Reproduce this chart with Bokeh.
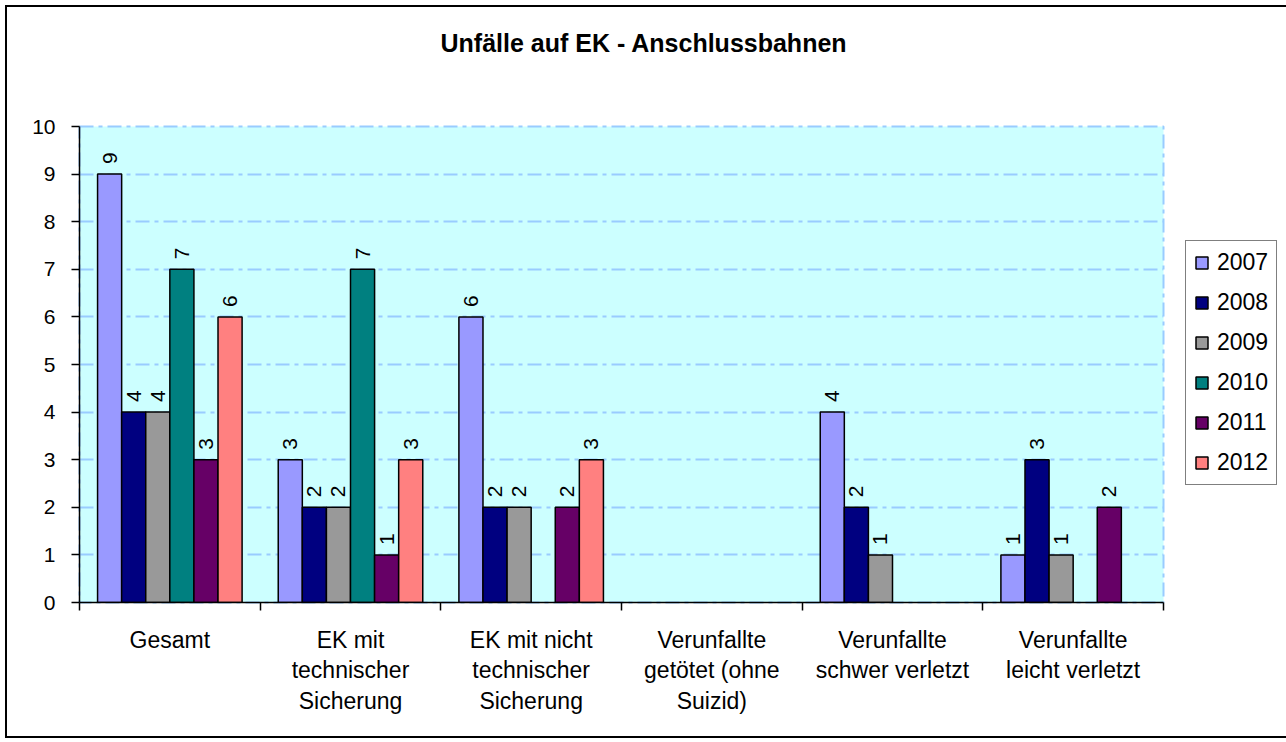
import math
from bokeh.plotting import figure
from bokeh.models import ColumnDataSource, FixedTicker, Legend, LegendItem, Range1d, Title
from bokeh.core.properties import value
from bokeh.embed import file_html
from bokeh.resources import INLINE

title_text = "Unfälle auf EK - Anschlussbahnen"
categories = [
    "Gesamt",
    "EK mit\ntechnischer\nSicherung",
    "EK mit nicht\ntechnischer\nSicherung",
    "Verunfallte\ngetötet (ohne\nSuizid)",
    "Verunfallte\nschwer verletzt",
    "Verunfallte\nleicht verletzt",
]
years = ["2007", "2008", "2009", "2010", "2011", "2012"]
v2007 = [9, 3, 6, None, 4, 1]
v2008 = [4, 2, 2, None, 2, 3]
v2009 = [4, 2, 2, None, 1, 1]
v2010 = [7, 7, None, None, None, None]
v2011 = [3, 1, 2, None, None, 2]
v2012 = [6, 3, 3, None, None, None]
series = [v2007, v2008, v2009, v2010, v2011, v2012]
colors = ["#9999FF", "#000080", "#999999", "#008080", "#660066", "#FF8080"]
y_ticks = list(range(0, 11))

FONT = "Liberation Sans"
GRID = "#99CCFF"
DASH = "14 5 4 5"

n_cat = len(categories)
n_ser = len(years)
bar_w = 1.0 / (n_ser + 1.5)

p = figure(
    frame_width=1084, frame_height=476,
    min_border_left=72, min_border_right=116, min_border_top=119, min_border_bottom=134,
    x_range=Range1d(0, n_cat), y_range=Range1d(0, 10),
    output_backend="svg", toolbar_location=None,
    background_fill_color="#CCFFFF", border_fill_color="white",
)
p.styles = {"margin": "7px 0 0 7px", "outline": "2px solid black"}

p.title.text = title_text
p.title.align = "left"
p.title.offset = 361
p.title.text_font = FONT
p.title.text_font_size = "25px"
p.title.text_font_style = "bold"
p.title.text_color = "black"
p.title.standoff = 10

# spacer between title and plot area
spacer = Title(text=" ", text_font_size="10px", standoff=52)
p.add_layout(spacer, "above")

# grid & outline
p.xgrid.visible = False
p.ygrid.grid_line_color = GRID
p.ygrid.grid_line_width = 2
p.ygrid.grid_line_dash = DASH
p.ygrid.ticker = FixedTicker(ticks=y_ticks)
p.outline_line_color = GRID
p.outline_line_width = 2
p.outline_line_dash = DASH

# y axis
p.yaxis.ticker = FixedTicker(ticks=y_ticks)
p.yaxis.axis_line_color = "black"
p.yaxis.axis_line_width = 1.5
p.yaxis.major_tick_line_width = 1.5
p.yaxis.major_tick_out = 8
p.yaxis.major_tick_in = 0
p.yaxis.minor_tick_line_color = None
p.yaxis.major_label_text_font = FONT
p.yaxis.major_label_text_font_size = "21px"
p.yaxis.major_label_text_color = "black"
p.yaxis.major_label_standoff = 16

# x axis
centers = [i + 0.5 for i in range(n_cat)]
bounds = [float(i) for i in range(n_cat + 1)]
p.xaxis.ticker = FixedTicker(ticks=centers, minor_ticks=bounds)
p.xaxis.major_label_overrides = {c: lab for c, lab in zip(centers, categories)}
p.xaxis.axis_line_color = "black"
p.xaxis.axis_line_width = 1.5
p.xaxis.major_tick_line_color = None
p.xaxis.major_tick_out = 0
p.xaxis.major_tick_in = 0
p.xaxis.minor_tick_line_color = "black"
p.xaxis.minor_tick_line_width = 1.5
p.xaxis.minor_tick_out = 8
p.xaxis.minor_tick_in = 0
p.xaxis.major_label_text_font = FONT
p.xaxis.major_label_text_font_size = "23px"
p.xaxis.major_label_text_color = "black"
p.xaxis.major_label_text_line_height = 1.18
p.xaxis.major_label_standoff = 16

items = []
for j, (yr, vals, col) in enumerate(zip(years, series, colors)):
    xs, tops, labs = [], [], []
    for i, v in enumerate(vals):
        if v is None:
            continue
        xs.append(i + 0.5 + (j - (n_ser - 1) / 2) * bar_w)
        tops.append(v)
        labs.append(str(v))
    src = ColumnDataSource(dict(x=xs, top=tops, lab=labs))
    r = p.vbar(x="x", top="top", width=bar_w, source=src, fill_color=col,
               line_color="black", line_width=1.5)
    p.text(x="x", y="top", text="lab", source=src, angle=math.pi / 2,
           text_align="left", text_baseline="middle", y_offset=-10,
           text_font=value(FONT), text_font_size="21px", text_color="black")
    items.append(LegendItem(label=yr, renderers=[r]))

legend = Legend(items=items, location=(22, 117))
legend.label_text_font = FONT
legend.label_text_font_size = "23px"
legend.label_text_color = "black"
legend.glyph_width = 15
legend.glyph_height = 15
legend.label_height = 23
legend.label_standoff = 8
legend.padding = 8
legend.spacing = 13
legend.margin = 0
legend.border_line_color = "black"
legend.border_line_width = 1.5
legend.background_fill_color = "white"
legend.background_fill_alpha = 1
p.add_layout(legend, "right")

open("out.html", "w").write(file_html(p, INLINE))
